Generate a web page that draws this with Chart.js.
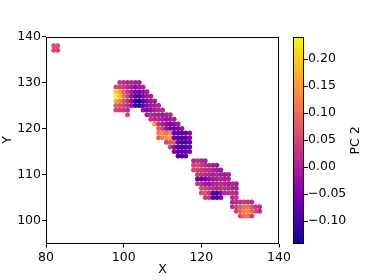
<!DOCTYPE html>
<html>
<head>
<meta charset="utf-8">
<script src="https://cdn.jsdelivr.net/npm/chart.js@4.4.1/dist/chart.umd.min.js"></script>
<style>
  html, body { margin: 0; padding: 0; background: #fff; }
  #wrap { width: 374px; height: 280px; }
</style>
</head>
<body>
<div id="wrap"><canvas id="pcChart" width="374" height="280"></canvas></div>
<script>
// --- Data ---
// spots sit on a 1-unit grid: each run is one row at runY, starting at runX0,
// with the PC 2 value of every spot from left to right
const runY  = [138, 137, 130, 129, 128, 127, 126, 125, 124, 124, 123, 123, 122, 121, 120, 119, 118, 117,
               116, 115, 114, 113, 112, 111, 110, 109, 108, 107, 106, 105, 105, 104, 103, 102, 101];
const runX0 = [82, 82, 99, 98, 98, 98, 98, 98, 98, 105, 101, 106, 107, 108, 109, 109, 109, 111,
               112, 113, 114, 118, 118, 118, 119, 119, 119, 120, 120, 121, 128, 128, 128, 129, 130];
const runPC2 = [
  [0.06, 0.06],
  [0.06, 0.05],
  [0.03, 0.02, 0.01, 0.01, 0.00, 0.00],
  [0.06, 0.05, 0.04, 0.02, 0.00, -0.02, 0.00, 0.01],
  [0.20, 0.16, 0.09, 0.04, 0.00, -0.05, -0.06, -0.02, 0.00],
  [0.24, 0.19, 0.11, 0.05, -0.02, -0.08, -0.10, -0.05, -0.01, 0.00],
  [0.17, 0.13, 0.07, 0.03, -0.03, -0.12, -0.14, -0.09, -0.04, -0.01, 0.00],
  [0.08, 0.07, 0.05, 0.02, -0.02, -0.10, -0.12, -0.07, -0.03, -0.01, 0.00, 0.01],
  [0.05, 0.04, 0.03, 0.02],
  [-0.02, -0.03, -0.02, 0.00, 0.01, 0.01],
  [0.05],
  [0.00, 0.02, 0.01, 0.00, -0.01, 0.00, 0.01],
  [0.03, 0.02, 0.02, 0.00, -0.02, -0.01, 0.00],
  [0.15, 0.03, 0.01, -0.02, -0.04, -0.03, -0.01],
  [0.08, 0.05, -0.02, -0.05, -0.06, -0.04, -0.02],
  [0.12, 0.13, 0.10, 0.14, -0.05, -0.07, -0.08, -0.06, -0.03],
  [0.09, 0.12, 0.14, 0.16, -0.06, -0.08, -0.09, -0.07, -0.04],
  [0.05, 0.07, 0.08, -0.06, -0.09, -0.09, -0.07],
  [0.05, -0.03, -0.08, -0.09, -0.08, -0.06],
  [-0.04, -0.08, -0.09, -0.08, -0.05],
  [-0.07, -0.08, -0.06],
  [0.02, 0.03, 0.01, 0.00],
  [0.05, 0.06, 0.04, 0.02, 0.01, 0.00, -0.01],
  [0.06, 0.05, 0.04, 0.03, 0.02, 0.01, 0.00, -0.01],
  [0.04, 0.03, 0.02, 0.01, 0.00, 0.01, 0.00, -0.01, 0.00],
  [-0.05, -0.06, -0.05, -0.03, -0.01, 0.00, 0.01, 0.00, 0.01],
  [0.03, 0.02, -0.01, -0.02, 0.00, 0.01, 0.02, 0.01, 0.00, 0.01, 0.00],
  [0.06, 0.05, 0.03, 0.02, 0.01, 0.02, 0.03, 0.02, 0.01, 0.00],
  [0.06, 0.07, 0.04, -0.08, -0.10, -0.04, 0.01, 0.02, 0.02, 0.01],
  [0.04, 0.03, -0.09, -0.10, -0.05],
  [0.02, 0.03],
  [0.01, 0.02, 0.03, 0.04, 0.03, 0.02],
  [0.02, 0.05, 0.08, 0.10, 0.11, 0.07, 0.04, 0.02],
  [0.05, 0.09, 0.12, 0.13, 0.10, 0.06, 0.02],
  [0.06, 0.10, 0.11, 0.05]
];

const xTicks = [80, 100, 120, 140];
const yTicks = [100, 110, 120, 130, 140];
const cbTicks = [-0.10, -0.05, 0.00, 0.05, 0.10, 0.15, 0.20];
const cbMin = -0.1416;
const cbMax = 0.2416;

// --- plasma colormap ---
const plasma = ['#0d0887', '#41049d', '#6a00a8', '#8f0da4', '#b12a90', '#cc4778',
                '#e16462', '#f2844b', '#fca636', '#fcce25', '#f0f921'];

function hexToRgb(h) {
  return [parseInt(h.slice(1, 3), 16), parseInt(h.slice(3, 5), 16), parseInt(h.slice(5, 7), 16)];
}

function plasmaColor(v) {
  let t = (v - cbMin) / (cbMax - cbMin);
  t = Math.max(0, Math.min(1, t)) * 10;
  const i = Math.min(9, Math.floor(t));
  const f = t - i;
  const a = hexToRgb(plasma[i]), b = hexToRgb(plasma[i + 1]);
  const c = a.map((av, k) => Math.round(av + (b[k] - av) * f));
  return `rgb(${c[0]},${c[1]},${c[2]})`;
}

// --- build points ---
const points = [];
const colors = [];
runY.forEach((y, r) => {
  runPC2[r].forEach((v, i) => {
    points.push({ x: runX0[r] + i, y: y });
    colors.push(plasmaColor(v));
  });
});

// --- frame + colorbar drawn after the chart ---
const colorbarPlugin = {
  id: 'colorbar',
  afterDraw(chart) {
    const ctx = chart.ctx;
    const area = chart.chartArea;
    const cb = chart.scales.cb;

    ctx.save();
    // full box round the plot
    ctx.strokeStyle = '#000';
    ctx.lineWidth = 1;
    ctx.strokeRect(Math.round(area.left) + 0.5, Math.round(area.top) + 0.5,
                   Math.round(area.right - area.left) - 1, Math.round(area.bottom - area.top) - 1);

    // gradient bar
    const left = Math.round(area.right) + 14;
    const w = 11;
    const top = Math.round(area.top);
    const bottom = Math.round(area.bottom);
    const grad = ctx.createLinearGradient(0, bottom, 0, top);
    plasma.forEach((c, i) => grad.addColorStop(i / 10, c));
    ctx.fillStyle = grad;
    ctx.fillRect(left, top, w, bottom - top);
    ctx.strokeRect(left + 0.5, top + 0.5, w - 1, bottom - top - 1);

    // tick marks
    cbTicks.forEach(v => {
      const y = Math.round(cb.getPixelForValue(v)) + 0.5;
      ctx.beginPath();
      ctx.moveTo(left + w, y);
      ctx.lineTo(left + w + 4, y);
      ctx.stroke();
    });

    // colorbar label
    ctx.fillStyle = '#000';
    ctx.font = '12.5px "DejaVu Sans"';
    ctx.textAlign = 'center';
    ctx.textBaseline = 'middle';
    ctx.translate(356, (top + bottom) / 2);
    ctx.rotate(-Math.PI / 2);
    ctx.fillText('PC 2', 0, 0);
    ctx.restore();
  }
};

Chart.defaults.font.family = '"DejaVu Sans", sans-serif';
Chart.defaults.font.size = 12.5;
Chart.defaults.color = '#000';

const ctx = document.getElementById('pcChart').getContext('2d');
const myChart = new Chart(ctx, {
  type: 'scatter',
  data: {
    datasets: [{
      data: points,
      pointBackgroundColor: colors,
      pointBorderWidth: 0,
      pointRadius: 2.5,
      pointHoverRadius: 2.5
    }]
  },
  options: {
    responsive: false,
    animation: false,
    devicePixelRatio: 1,
    layout: { padding: { top: 33, left: 0, right: 0, bottom: 0 } },
    plugins: {
      legend: { display: false },
      tooltip: { enabled: false }
    },
    scales: {
      x: {
        type: 'linear',
        position: 'bottom',
        min: 80,
        max: 140,
        afterBuildTicks: s => { s.ticks = xTicks.map(v => ({ value: v })); },
        afterFit: s => { s.height = 35; },
        ticks: { padding: 3, maxRotation: 0 },
        grid: { drawOnChartArea: false, color: '#000', tickLength: 4 },
        border: { display: false },
        title: { display: true, text: 'X', padding: { top: 0, bottom: 1 } }
      },
      y: {
        type: 'linear',
        position: 'left',
        min: 95,
        max: 140,
        afterBuildTicks: s => { s.ticks = yTicks.map(v => ({ value: v })); },
        afterFit: s => { s.width = 46; },
        ticks: { padding: 1 },
        grid: { drawOnChartArea: false, color: '#000', tickLength: 4 },
        border: { display: false },
        title: { display: true, text: 'Y', padding: 0 }
      },
      cb: {
        type: 'linear',
        position: 'right',
        min: cbMin,
        max: cbMax,
        afterBuildTicks: s => { s.ticks = cbTicks.map(v => ({ value: v })); },
        afterFit: s => { s.width = 95; },
        ticks: {
          padding: 29,
          callback: v => (v < 0 ? '\u2212' : '') + Math.abs(v).toFixed(2)
        },
        grid: { display: false, drawTicks: false },
        border: { display: false }
      }
    }
  },
  plugins: [colorbarPlugin]
});
</script>
</body>
</html>
